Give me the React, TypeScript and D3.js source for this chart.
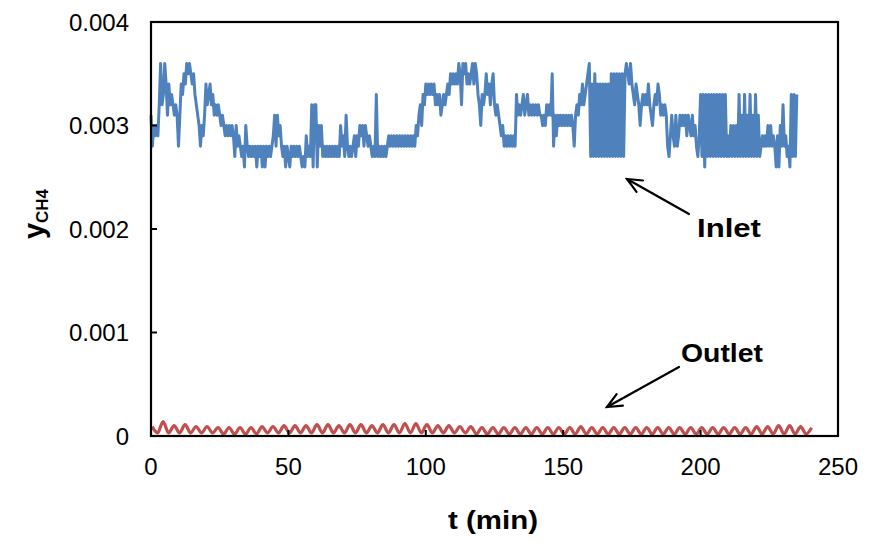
import React from "react";
import * as d3 from "d3";

// ---------- data ----------
const xTicks = [0, 50, 100, 150, 200, 250];
const yTicks = [0, 0.001, 0.002, 0.003, 0.004];
const yTickLabels = ["0", "0.001", "0.002", "0.003", "0.004"];

// Inlet y_CH4, in units of 1e-4, sampled every 0.5 min from t = 0
const inletStep = 0.5;
const inletLevels = [
  31, 28, 30, 29, 30, 29, 32, 36, 32, 33, // 0
  36, 34, 31, 34, 32, 33, 32, 31, 32, 31, // 5
  28, 31, 34, 33, 35, 34, 36, 35, 36, 35, // 10
  34, 35, 33, 32, 31, 30, 28, 30, 29, 31, // 15
  34, 32, 33, 34, 32, 33, 31, 32, 31, 32, // 20
  31, 30, 31, 30, 29, 30, 29, 30, 29, 30, // 25
  29, 27, 30, 28, 29, 28, 27, 28, 26, 30, // 30
  28, 27, 28, 27, 28, 27, 28, 26, 28, 27, // 35
  28, 26, 28, 26, 28, 27, 28, 27, 28, 29, // 40
  31, 28, 31, 29, 30, 28, 27, 28, 26, 28, // 45
  27, 26, 28, 27, 28, 27, 28, 27, 28, 27, // 50
  26, 27, 26, 29, 27, 28, 27, 32, 26, 32, // 55
  32, 26, 30, 28, 30, 27, 28, 27, 28, 27, // 60
  28, 27, 28, 27, 28, 27, 28, 27, 30, 28, // 65
  29, 27, 31, 28, 27, 28, 27, 28, 29, 27, // 70
  29, 28, 30, 29, 30, 28, 30, 29, 28, 29, // 75
  28, 27, 28, 27, 33, 27, 28, 27, 28, 27, // 80
  28, 27, 28, 29, 28, 29, 28, 29, 28, 29, // 85
  28, 29, 28, 29, 28, 29, 28, 29, 28, 29, // 90
  28, 29, 28, 30, 29, 31, 32, 30, 33, 32, // 95
  34, 33, 34, 33, 34, 33, 34, 32, 33, 32, // 100
  33, 31, 32, 33, 32, 33, 34, 33, 35, 34, // 105
  35, 34, 35, 34, 36, 35, 32, 36, 35, 36, // 110
  34, 35, 34, 35, 36, 34, 36, 35, 33, 32, // 115
  30, 33, 32, 33, 35, 33, 34, 32, 34, 35, // 120
  32, 31, 32, 31, 30, 29, 30, 28, 29, 28, // 125
  29, 28, 29, 28, 29, 28, 33, 31, 32, 31, // 130
  32, 33, 31, 32, 33, 31, 32, 31, 32, 31, // 135
  32, 31, 32, 31, 31, 30, 31, 30, 32, 31, // 140
  32, 31, 35, 28, 31, 29, 31, 30, 31, 30, // 145
  31, 30, 31, 30, 31, 30, 31, 30, 28, 31, // 150
  32, 31, 33, 32, 34, 32, 33, 34, 35, 36, // 155
  27, 34, 27, 35, 27, 34, 27, 34, 27, 34, // 160
  27, 34, 27, 34, 27, 35, 27, 35, 27, 35, // 165
  27, 35, 27, 35, 27, 35, 36, 35, 34, 36, // 170
  34, 33, 32, 34, 33, 32, 30, 32, 33, 32, // 175
  33, 32, 34, 32, 31, 30, 32, 33, 32, 34, // 180
  33, 31, 32, 31, 32, 31, 28, 27, 29, 31, // 185
  29, 28, 31, 28, 29, 31, 30, 31, 30, 31, // 190
  29, 31, 30, 29, 31, 29, 30, 28, 27, 29, // 195
  33, 27, 33, 26, 33, 27, 33, 27, 33, 27, // 200
  33, 27, 33, 27, 33, 27, 33, 27, 33, 27, // 205
  29, 27, 30, 27, 30, 27, 30, 27, 33, 27, // 210
  31, 27, 33, 27, 31, 27, 33, 27, 31, 27, // 215
  33, 27, 31, 27, 28, 29, 28, 29, 28, 30, // 220
  28, 30, 28, 29, 28, 26, 29, 26, 30, 28, // 225
  32, 28, 29, 27, 28, 26, 33, 27, 33, 27, // 230
  33, // 235
];

// Outlet y_CH4, units of 1e-5: peaks every 4 min from t = 0.4, troughs in between
const outletStart = 0.4;
const outletPeriod = 4;
const outletPeaks = [
  9, 14, 10, 11, 9, 9, 8, 8, 8, 8,
  9, 9, 10, 10, 10, 11, 11, 10, 11, 11,
  10, 11, 11, 12, 12, 11, 10, 10, 9, 9,
  8, 8, 8, 8, 8, 8, 8, 8, 8, 9,
  8, 8, 8, 8, 8, 8, 8, 8, 8, 8,
  8, 8, 8, 8, 8, 9, 9, 10, 10, 9,
  8,
];
const outletTroughs = [
  3, 3, 3, 3, 3, 3, 2, 2, 2, 2,
  3, 3, 3, 3, 3, 3, 3, 3, 3, 3,
  3, 3, 3, 3, 3, 3, 3, 3, 3, 2,
  2, 2, 2, 2, 2, 2, 2, 2, 2, 2,
  2, 2, 2, 2, 2, 2, 2, 2, 2, 2,
  2, 2, 2, 2, 2, 2, 2, 2, 2, 2,
];

// ---------- layout ----------
const W = 873;
const H = 549;
const plot = { left: 151, right: 838, top: 22, bottom: 436 };
const FONT = "'Liberation Sans', Arial, sans-serif";
const BLUE = "#4F81BD";
const RED = "#C0504D";

export default function App() {
  const x = d3.scaleLinear().domain([0, 250]).range([plot.left, plot.right]);
  const y = d3.scaleLinear().domain([0, 0.004]).range([plot.bottom, plot.top]);

  const inletPts: [number, number][] = inletLevels.map((v, i) => [i * inletStep, v * 1e-4]);
  const outletPts: [number, number][] = [];
  outletPeaks.forEach((p, k) => {
    outletPts.push([outletStart + k * outletPeriod, p * 1e-5]);
    if (k < outletTroughs.length) {
      outletPts.push([outletStart + k * outletPeriod + outletPeriod / 2, outletTroughs[k] * 1e-5]);
    }
  });

  const lineStep = d3
    .line<[number, number]>()
    .x((d) => x(d[0]))
    .y((d) => y(d[1]));
  const lineSmooth = d3
    .line<[number, number]>()
    .x((d) => x(d[0]))
    .y((d) => y(d[1]))
    .curve(d3.curveMonotoneX);

  const arrow = (x1: number, y1: number, x2: number, y2: number) => {
    const ang = Math.atan2(y1 - y2, x1 - x2);
    const len = 16;
    const spread = 0.42;
    const a1 = [x2 + len * Math.cos(ang + spread), y2 + len * Math.sin(ang + spread)];
    const a2 = [x2 + len * Math.cos(ang - spread), y2 + len * Math.sin(ang - spread)];
    return (
      <g stroke="#000" strokeWidth={2.2} fill="none" strokeLinecap="round">
        <line x1={x1} y1={y1} x2={x2} y2={y2} />
        <polyline points={`${a1[0]},${a1[1]} ${x2},${y2} ${a2[0]},${a2[1]}`} />
      </g>
    );
  };

  return (
    <svg
      width={W}
      height={H}
      style={{ position: "absolute", left: 0, top: 0, background: "#fff" }}
      fontFamily={FONT}
    >
      <rect x={0} y={0} width={W} height={H} fill="#fff" />
      {/* series */}
      <path d={lineStep(inletPts) || ""} fill="none" stroke={BLUE} strokeWidth={3} strokeLinejoin="round" />
      <path d={lineSmooth(outletPts) || ""} fill="none" stroke={RED} strokeWidth={3.2} />

      {/* ticks (inside) */}
      {yTicks.map((t) => (
        <line key={"yt" + t} x1={plot.left} x2={plot.left + 6} y1={y(t)} y2={y(t)} stroke="#000" strokeWidth={2} />
      ))}
      {xTicks.map((t) => (
        <line key={"xt" + t} x1={x(t)} x2={x(t)} y1={plot.bottom} y2={plot.bottom - 6} stroke="#000" strokeWidth={2} />
      ))}

      {/* frame */}
      <rect
        x={plot.left}
        y={plot.top}
        width={plot.right - plot.left}
        height={plot.bottom - plot.top}
        fill="none"
        stroke="#000"
        strokeWidth={2.2}
      />

      {/* tick labels */}
      {yTicks.map((t, i) => (
        <text key={"yl" + t} x={129} y={y(t)} dy="0.36em" textAnchor="end" fontSize={24} fill="#000">
          {yTickLabels[i]}
        </text>
      ))}
      {xTicks.map((t) => (
        <text key={"xl" + t} x={x(t)} y={475} textAnchor="middle" fontSize={24} fill="#000">
          {t}
        </text>
      ))}

      {/* axis titles */}
      <text x={448} y={529} fontSize={26} fontWeight="bold" fill="#000" textLength={90} lengthAdjust="spacingAndGlyphs">
        t (min)
      </text>
      <text transform="translate(44,214) rotate(-90)" textAnchor="middle" fontWeight="bold" fill="#000">
        <tspan fontSize={29}>y</tspan>
        <tspan fontSize={17} dy={4}>CH4</tspan>
      </text>

      {/* annotations */}
      <text x={697} y={237} fontSize={25} fontWeight="bold" fill="#000" textLength={64} lengthAdjust="spacingAndGlyphs">
        Inlet
      </text>
      {arrow(689, 214, 627, 179)}
      <text x={681} y={362} fontSize={25} fontWeight="bold" fill="#000" textLength={82} lengthAdjust="spacingAndGlyphs">
        Outlet
      </text>
      {arrow(679, 367, 607, 407)}
    </svg>
  );
}
